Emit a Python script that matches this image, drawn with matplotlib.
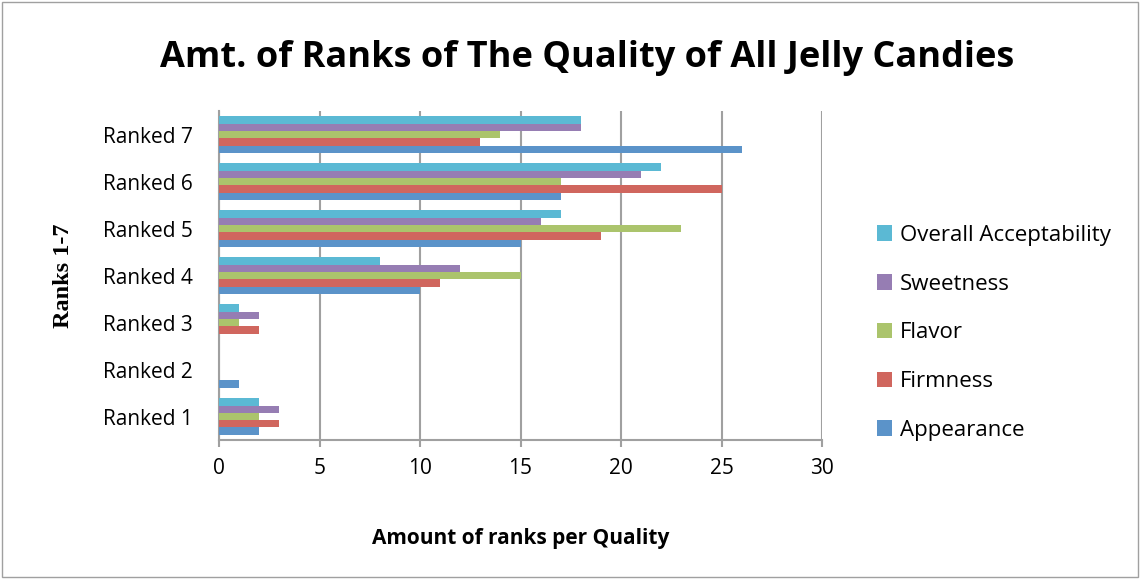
import numpy as np
import matplotlib.pyplot as plt
from matplotlib.patches import Rectangle

categories = ['Ranked 1', 'Ranked 2', 'Ranked 3', 'Ranked 4', 'Ranked 5', 'Ranked 6', 'Ranked 7']
series = ['Appearance', 'Firmness', 'Flavor', 'Sweetness', 'Overall Acceptability']
appearance = [2, 1, 0, 10, 15, 17, 26]
firmness = [3, 0, 2, 11, 19, 25, 13]
flavor = [2, 0, 1, 15, 23, 17, 14]
sweetness = [3, 0, 2, 12, 16, 21, 18]
overall = [2, 0, 1, 8, 17, 22, 18]
colors = ['#5B93C9', '#D0665E', '#ABC46C', '#967DB3', '#5BB9D4']

plt.rcParams['font.family'] = ['Open Sans', 'DejaVu Sans']

fig = plt.figure(figsize=(11.4, 5.79), dpi=100)
ax = fig.add_axes([0.1921, 0.240, 0.529, 0.568])

values = [appearance, firmness, flavor, sweetness, overall]
y = np.arange(len(categories))
n = len(series)
bh = 0.155
for i, (name, vals, col) in enumerate(zip(series, values, colors)):
    offs = (i - (n - 1) / 2) * bh
    ax.barh(y + offs, vals, height=bh, color=col, label=name, zorder=3)

ax.set_xlim(0, 30)
ax.set_ylim(-0.5, len(categories) - 0.5)
ax.set_xticks(np.arange(0, 31, 5))
ax.set_yticks(y)
ax.set_yticklabels(categories, fontsize=15)
ax.tick_params(axis='x', labelsize=15, length=5, color='#A0A0A0', width=1.5, pad=8)
ax.tick_params(axis='y', length=0, pad=19)
ax.grid(axis='x', color='#A0A0A0', linewidth=1.5, zorder=0)
for s in ['top', 'right']:
    ax.spines[s].set_visible(False)
for s in ['left', 'bottom']:
    ax.spines[s].set_color('#A0A0A0')
    ax.spines[s].set_linewidth(1.5)

ax.set_xlabel('Amount of ranks per Quality', fontsize=15, fontweight='bold')
ax.xaxis.set_label_coords(0.5, -0.266)
ax.set_ylabel('Ranks 1-7', fontsize=17.5, fontweight='bold', family=['Liberation Serif'])
ax.yaxis.set_label_coords(-0.24, 0.5)
fig.text(0.5147, 0.9, 'Amt. of Ranks of The Quality of All Jelly Candies', ha='center', va='center',
         fontsize=26, fontweight='bold')

handles, labels = ax.get_legend_handles_labels()
leg = fig.legend(handles[::-1], labels[::-1], loc='center left', bbox_to_anchor=(0.7515, 0.425),
                 frameon=False, fontsize=16, handlelength=0.7, handleheight=0.7,
                 handletextpad=0.35, labelspacing=1.25)

fig.patches.append(Rectangle((0.002, 0.003), 0.996, 0.994, transform=fig.transFigure,
                             fill=False, edgecolor='#A0A0A0', linewidth=1))

plt.savefig('out.png', dpi=100)
